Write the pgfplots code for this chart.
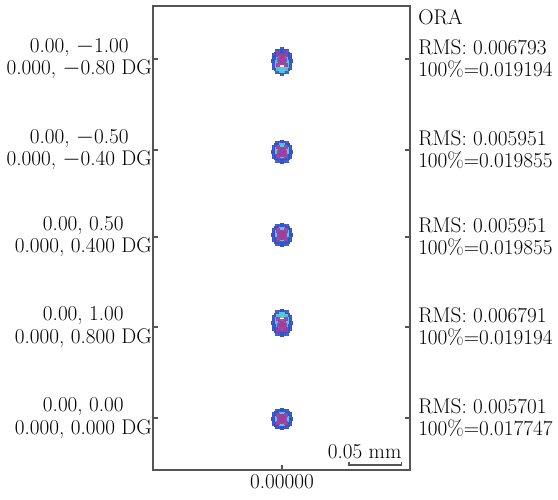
\documentclass[border=0pt]{standalone}
\usepackage{pgfplots}
\pgfplotsset{compat=1.18}
\usepackage{pgfplotstable}
\definecolor{spotblue}{HTML}{3553C6}
\definecolor{spotcyan}{HTML}{5CC6DA}
\definecolor{spotmag}{HTML}{9C3FA0}
\definecolor{framegray}{HTML}{555555}
\newcommand\lab{\fontsize{15.9}{16.6}\selectfont}

\pgfplotstableread{
x y
0.0090 0
0.0078 0.0045
0.0045 0.0078
0 0.0090
-0.0045 0.0078
-0.0078 0.0045
-0.0090 0
-0.0078 -0.0045
-0.0045 -0.0078
0 -0.0090
0.0045 -0.0078
0.0078 -0.0045
0.0079 0.0021
0.0058 0.0058
0.0021 0.0079
-0.0021 0.0079
-0.0058 0.0058
-0.0079 0.0021
-0.0079 -0.0021
-0.0058 -0.0058
-0.0021 -0.0079
0.0021 -0.0079
0.0058 -0.0058
0.0079 -0.0021
0.0066 0
0.0057 0.0033
0.0033 0.0057
0 0.0066
-0.0033 0.0057
-0.0057 0.0033
-0.0066 0
-0.0057 -0.0033
-0.0033 -0.0057
0 -0.0066
0.0033 -0.0057
0.0057 -0.0033
}\blueT

\pgfplotstableread{
x y
0.0048 0.0013
0.0035 0.0035
0.0013 0.0048
-0.0013 0.0048
-0.0035 0.0035
-0.0048 0.0013
-0.0048 -0.0013
-0.0035 -0.0035
-0.0013 -0.0048
0.0013 -0.0048
0.0035 -0.0035
0.0048 -0.0013
0.0036 0
0 0.0036
-0.0036 0
0 -0.0036
}\cyanT

\pgfplotstableread{
x y
0 0
0.0016 0.0016
-0.0016 0.0016
-0.0016 -0.0016
0.0016 -0.0016
0.0028 0
0 0.0028
-0.0028 0
0 -0.0028
0.0040 0.0040
-0.0040 0.0040
-0.0040 -0.0040
0.0040 -0.0040
}\magT

% #1 centre y, #2 y stretch, #3 cyan shift, #4 magenta shift
\newcommand{\spot}[4]{%
  \addplot[spotblue, only marks, mark=square*, mark size=1.15pt, mark options={solid, draw=spotblue, fill=spotblue, line width=0pt}, opacity=0.9]
    table[x=x, y expr={\thisrow{y}*#2+#1}] {\blueT};
  \addplot[spotcyan, only marks, mark=square*, mark size=1.15pt, mark options={solid, draw=spotcyan, fill=spotcyan, line width=0pt}, opacity=0.9]
    table[x=x, y expr={\thisrow{y}*#2+#1+#3}] {\cyanT};
  \addplot[spotmag, only marks, mark=square*, mark size=1.15pt, mark options={solid, draw=spotmag, fill=spotmag, line width=0pt}, opacity=0.85]
    table[x=x, y expr={\thisrow{y}*#2+#1+#4}] {\magT};
}

\begin{document}
\begin{tikzpicture}
\begin{axis}[
  scale only axis, width=192.75pt, height=348pt,
  xmin=-0.124, xmax=0.123, ymin=0, ymax=0.4462,
  clip=false,
  axis line style={framegray, line width=1.2pt},
  every tick/.style={framegray, line width=1pt},
  major tick length=4pt,
  tick align=inside,
  xtick={0}, xticklabels={0.00000},
  xtick pos=bottom,
  xticklabel style={font=\lab, inner sep=2pt, yshift=-1.5pt},
  ytick={0.0500,0.1375,0.2241,0.3078,0.3953},
  yticklabels={{0.00, 0.00\\0.000, 0.000 DG},
               {0.00, 1.00\\0.000, 0.800 DG},
               {0.00, 0.50\\0.000, 0.400 DG},
               {0.00, $-$0.50\\0.000, $-$0.40 DG},
               {0.00, $-$1.00\\0.000, $-$0.80 DG}},
  ytick pos=both, yticklabel pos=left,
  yticklabel style={font=\lab, align=center, inner sep=0.7pt},
]
\coordinate (sw) at (rel axis cs:0,0);
\coordinate (ne) at (rel axis cs:1,1);

\spot{0.3929}{1.30}{-0.0025}{0.0018}
\spot{0.3059}{1.08}{0.0010}{0}
\spot{0.2260}{1.08}{0.0010}{0}
\spot{0.1414}{1.30}{0.0025}{-0.0018}
\spot{0.0491}{1.00}{0}{0}

% scale bar
\draw[framegray, line width=0.9pt] (axis cs:0.0644,0.0078) -- (axis cs:0.0644,0.0048) -- (axis cs:0.1145,0.0048) -- (axis cs:0.1145,0.0078);
\node[font=\lab, anchor=base east, inner sep=0pt] at (axis cs:0.1150,0.0115) {0.05 mm};

% right-hand labels
\node[font=\lab, anchor=west, inner sep=0pt, xshift=6pt] at (axis cs:0.123,0.4355) {ORA};
\node[font=\lab, anchor=west, align=left, inner sep=0pt, xshift=6pt] at (axis cs:0.123,0.3953) {RMS: 0.006793\\100\%=0.019194};
\node[font=\lab, anchor=west, align=left, inner sep=0pt, xshift=6pt] at (axis cs:0.123,0.3078) {RMS: 0.005951\\100\%=0.019855};
\node[font=\lab, anchor=west, align=left, inner sep=0pt, xshift=6pt] at (axis cs:0.123,0.2241) {RMS: 0.005951\\100\%=0.019855};
\node[font=\lab, anchor=west, align=left, inner sep=0pt, xshift=6pt] at (axis cs:0.123,0.1375) {RMS: 0.006791\\100\%=0.019194};
\node[font=\lab, anchor=west, align=left, inner sep=0pt, xshift=6pt] at (axis cs:0.123,0.0500) {RMS: 0.005701\\100\%=0.017747};
\end{axis}
\pgfresetboundingbox
\path ([shift={(-114.75pt,-22.5pt)}]sw) rectangle ([shift={(111pt,4.5pt)}]ne);
\end{tikzpicture}
\end{document}
